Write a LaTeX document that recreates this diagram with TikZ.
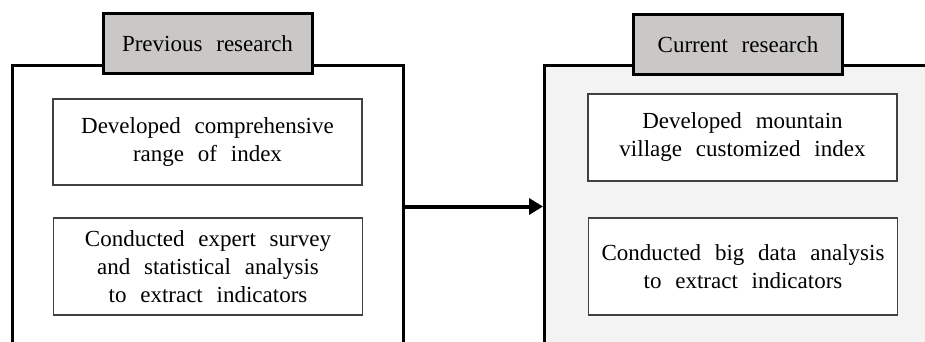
\documentclass[tikz,border=0pt]{standalone}
\usepackage{fontspec}
\setmainfont{Liberation Serif}
\usetikzlibrary{arrows.meta}
\definecolor{tabgray}{RGB}{201,200,198}
\definecolor{panelgray}{RGB}{242,243,242}
\newcommand{\boxfont}{\fontsize{11.5}{14}\selectfont\spaceskip=0.6em plus 0.1em\relax}

\begin{document}
\begin{tikzpicture}[x=0.5pt,y=-0.5pt,
  every node/.style={font=\boxfont},
  panel/.style={draw, line width=1.5pt, anchor=north west, inner sep=0pt, minimum height=141pt},
  tabbox/.style={draw, fill=tabgray, line width=1.5pt, minimum width=104.5pt, minimum height=30pt, inner sep=0pt},
  itembox/.style={draw=black!75, fill=white, line width=0.7pt, minimum width=154.5pt, align=center, inner sep=0pt},
  flow/.style={line width=2pt, -{Triangle[length=7pt,width=8pt]}}]
\useasboundingbox (0,0) rectangle (925,342);
\clip (0,0) rectangle (925,342);

% Previous research
\node[panel, minimum width=195.5pt] (prev) at (11,64) {};
\node[tabbox] (prevtab) at (207.5,44) {Previous research};
\node[itembox, minimum height=43pt] (prev1) at (207.5,142) {Developed comprehensive\\range of index};
\node[itembox, minimum height=48.5pt] (prev2) at (208,266.5) {Conducted expert survey\\and statistical analysis\\to extract indicators};

% Current research
\node[panel, fill=panelgray, minimum width=200pt] (curr) at (543,64) {};
\node[tabbox] (currtab) at (738,45) {Current research};
\node[itembox, minimum height=43.5pt] (curr1) at (742.5,137.5) {Developed mountain\\village customized index};
\node[itembox, minimum height=48.5pt] (curr2) at (743,266.5) {Conducted big data analysis\\to extract indicators};

\draw[flow] (prev.east) -- (curr.west);
\end{tikzpicture}
\end{document}
